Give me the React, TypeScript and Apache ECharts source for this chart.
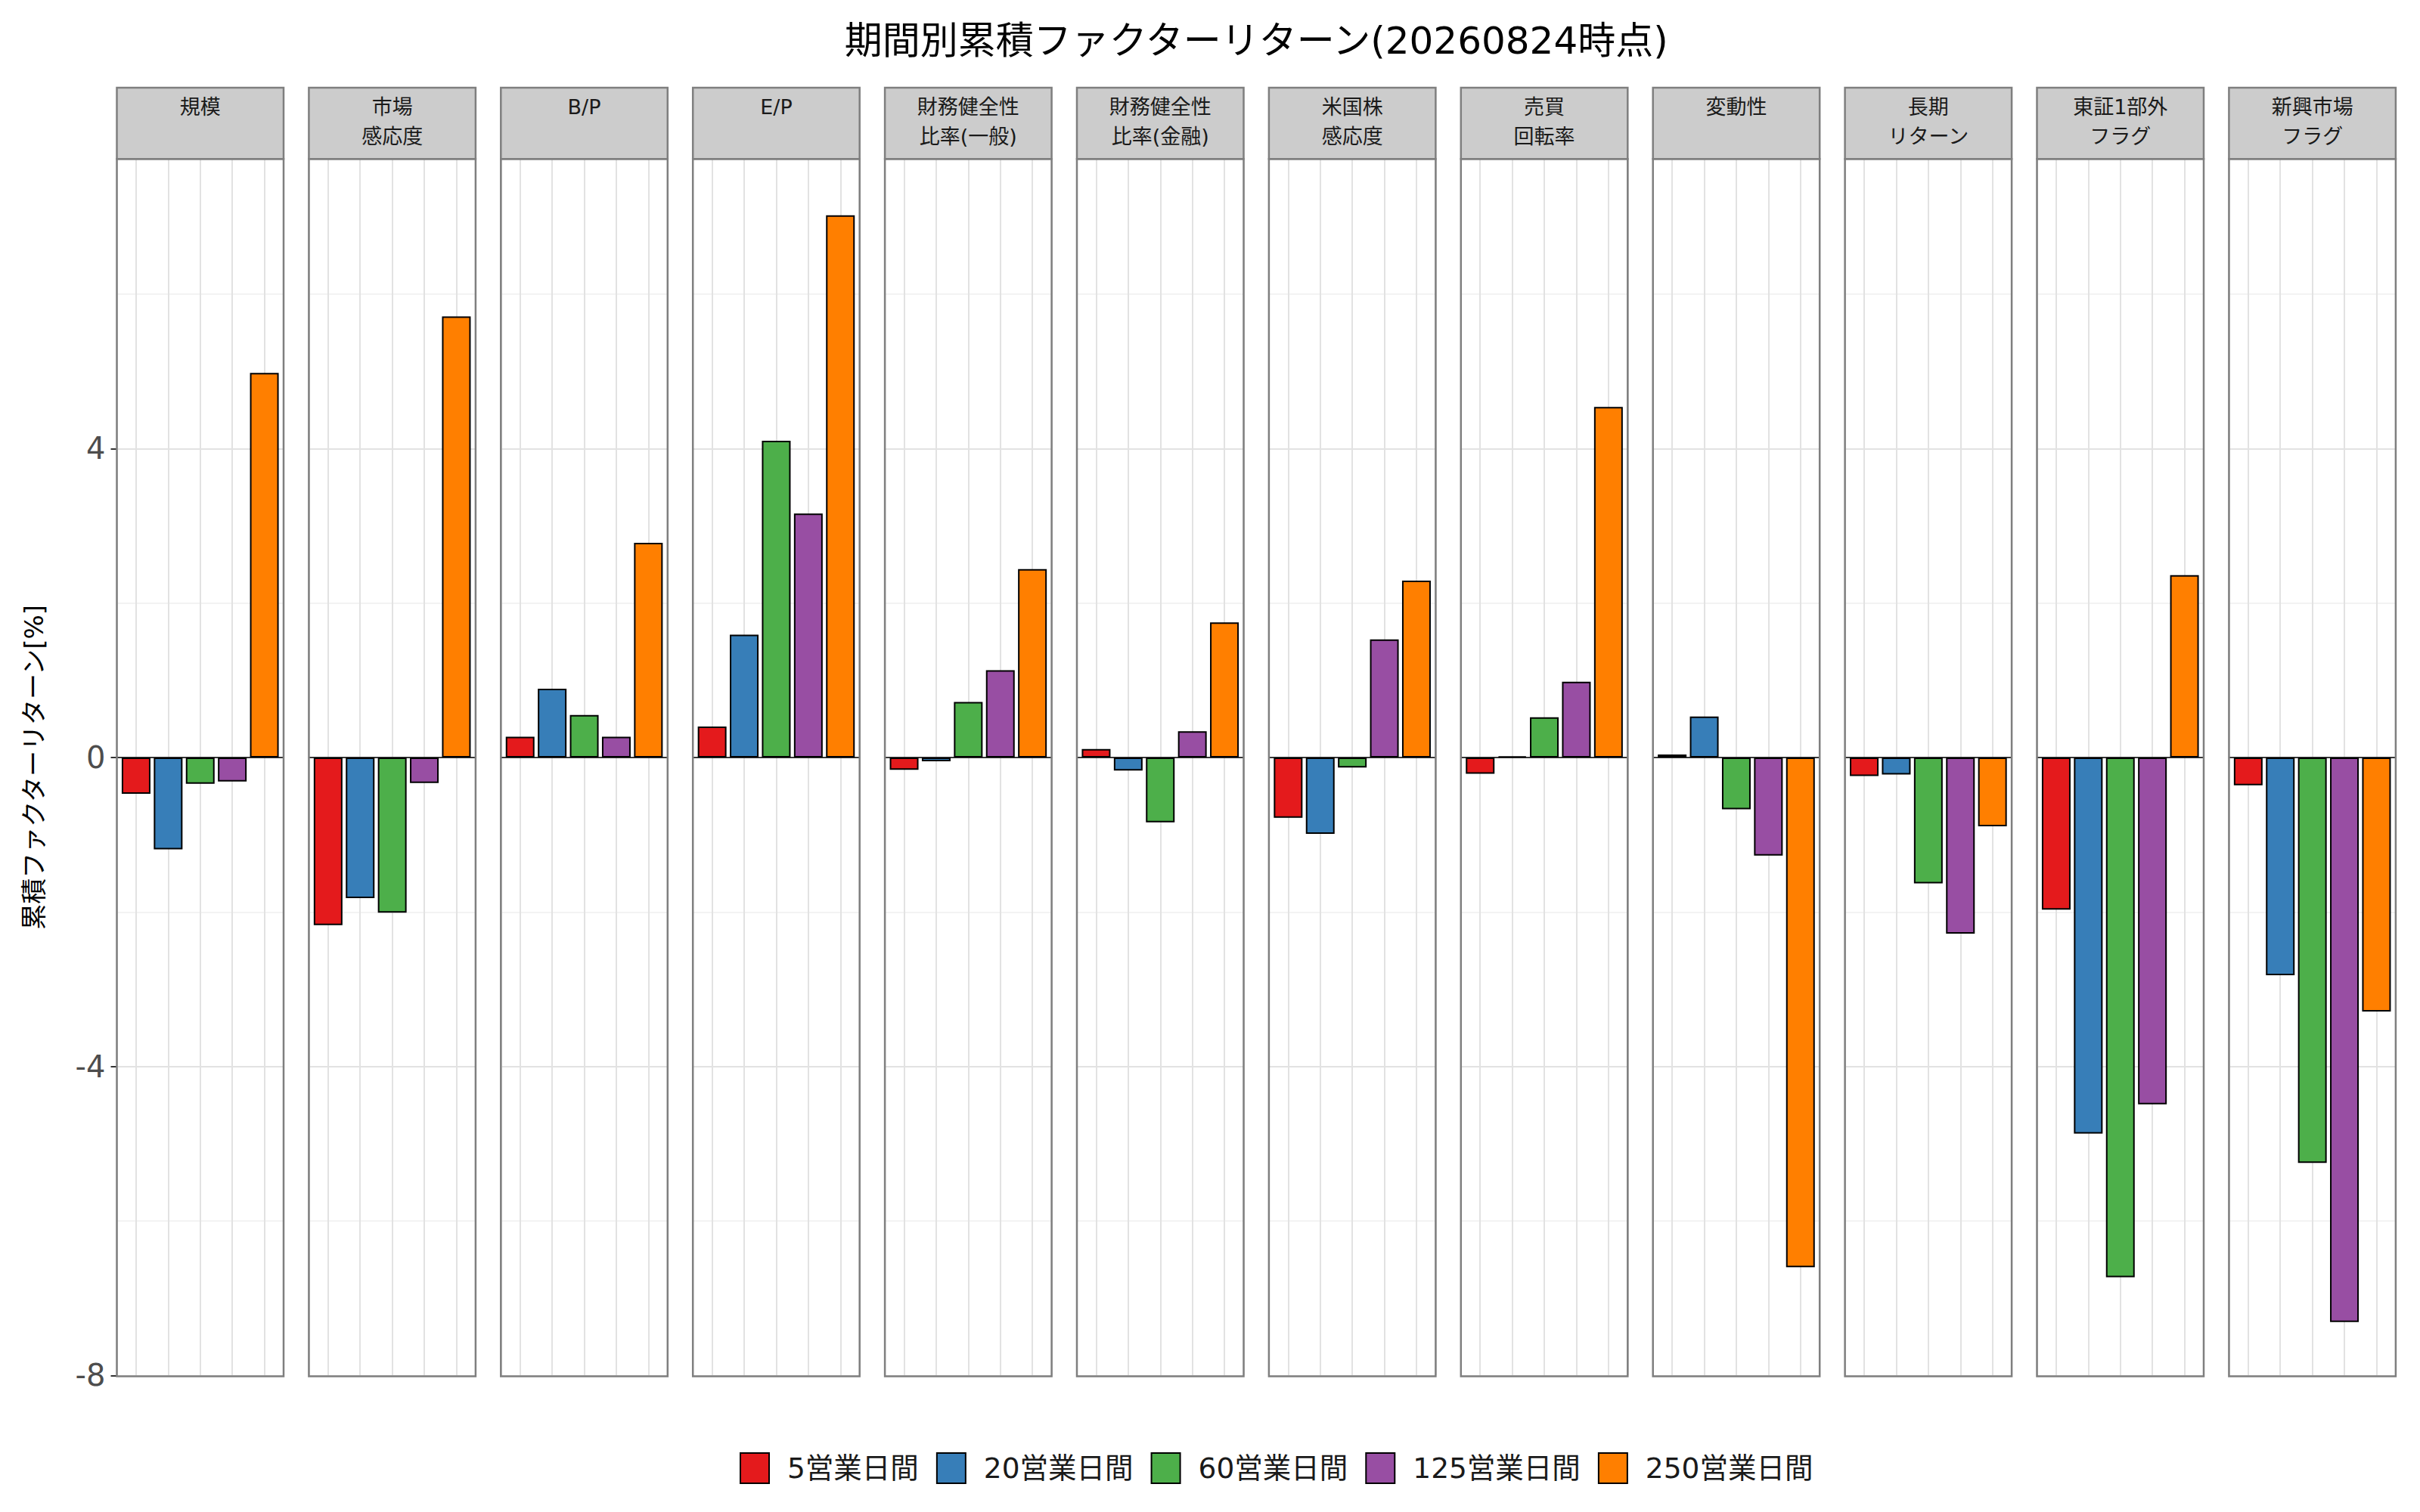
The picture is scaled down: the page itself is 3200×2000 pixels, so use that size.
import React, { useEffect, useRef } from 'react';
import * as echarts from 'echarts';

// ---- data ----
const factors = [
  '規模',
  '市場\n感応度',
  'B/P',
  'E/P',
  '財務健全性\n比率(一般)',
  '財務健全性\n比率(金融)',
  '米国株\n感応度',
  '売買\n回転率',
  '変動性',
  '長期\nリターン',
  '東証1部外\nフラグ',
  '新興市場\nフラグ',
];
const periods = ['5営業日間', '20営業日間', '60営業日間', '125営業日間', '250営業日間'];
const periodColors = ['#E41A1C', '#377EB8', '#4DAF4A', '#984EA3', '#FF7F00'];

const ret5 = [-0.47, -2.17, 0.27, 0.4, -0.16, 0.11, -0.78, -0.21, 0.04, -0.24, -1.97, -0.36];
const ret20 = [-1.19, -1.82, 0.89, 1.59, -0.05, -0.17, -0.99, 0.015, 0.53, -0.22, -4.87, -2.82];
const ret60 = [-0.34, -2.01, 0.55, 4.1, 0.72, -0.84, -0.13, 0.52, -0.67, -1.63, -6.73, -5.25];
const ret125 = [-0.31, -0.33, 0.27, 3.16, 1.13, 0.34, 1.53, 0.98, -1.27, -2.28, -4.49, -7.31];
const ret250 = [4.98, 5.71, 2.78, 7.02, 2.44, 1.75, 2.29, 4.54, -6.6, -0.89, 2.36, -3.29];
const seriesValues = [ret5, ret20, ret60, ret125, ret250];

const yTickLabels = [-8, -4, 0, 4];
const titleText = '期間別累積ファクターリターン(20260824時点)';
const yAxisTitle = '累積ファクターリターン[%]';

// ---- layout ----
const W = 3200;
const H = 2000;
const PANEL_LEFT = 154.5;
const PANEL_STEP = 253.9;
const PANEL_W = 220.5;
const PANEL_TOP = 210.2;
const PANEL_H = 1609.1;
const STRIP_TOP = 116;
const Y_MIN = -8;
const Y_MAX = 7.75;
const X_MIN = 0.4;
const X_MAX = 5.6;
const FONT = "'DejaVu Sans', 'Noto Sans CJK JP', sans-serif";
const BORDER = '#7f7f7f';

function buildOption() {
  const n = factors.length;
  const grids = factors.map((_, i) => ({
    left: PANEL_LEFT + i * PANEL_STEP,
    top: PANEL_TOP,
    width: PANEL_W,
    height: PANEL_H,
    show: true,
    backgroundColor: '#ffffff',
    borderWidth: 0,
    containLabel: false,
    outerBoundsMode: 'none',
  }));

  const xAxes = factors.map((_, i) => ({
    type: 'value',
    gridIndex: i,
    min: X_MIN,
    max: X_MAX,
    axisLabel: { show: false },
    axisTick: { show: false },
    axisLine: { show: true, onZero: true, lineStyle: { color: '#000', width: 1.5 } },
    splitLine: { show: true, lineStyle: { color: '#e2e2e2', width: 2 } },
  }));

  const yAxes: any[] = factors.map((_, i) => ({
    type: 'value',
    gridIndex: i,
    min: Y_MIN,
    max: Y_MAX,
    interval: 2,
    axisLabel: { show: false },
    axisTick: { show: false },
    axisLine: { show: false },
    splitLine: { show: true, lineStyle: { color: ['#e2e2e2', '#f3f3f3'], width: 2 } },
  }));
  // label/tick axis for first panel
  yAxes.push({
    type: 'value',
    gridIndex: 0,
    position: 'left',
    min: Y_MIN,
    max: Y_MAX,
    interval: 4,
    axisLine: { show: false },
    axisTick: { show: true, length: 8, lineStyle: { color: '#333333', width: 2 } },
    axisLabel: {
      show: true,
      margin: 15,
      fontSize: 40,
      color: '#4d4d4d',
      fontFamily: FONT,
      showMaxLabel: false,
      formatter: (v: number) => (yTickLabels.indexOf(v) >= 0 ? String(v) : ''),
    },
    splitLine: { show: false },
  });

  const series: any[] = [];
  periods.forEach((p, pi) => {
    factors.forEach((_, i) => {
      series.push({
        type: 'bar',
        name: p,
        xAxisIndex: i,
        yAxisIndex: i,
        data: [[pi + 1, seriesValues[pi][i]]],
        barWidth: 38,
        barGap: '-100%',
        itemStyle: { color: periodColors[pi], borderColor: '#000', borderWidth: 2 },
        z: 3,
      });
    });
  });

  const graphic: any[] = [];
  factors.forEach((f, i) => {
    const x = PANEL_LEFT + i * PANEL_STEP;
    graphic.push({
      type: 'rect',
      silent: true,
      z: 100,
      shape: { x, y: STRIP_TOP, width: PANEL_W, height: PANEL_TOP - STRIP_TOP },
      style: { fill: '#cccccc', stroke: BORDER, lineWidth: 2.5 },
    });
    graphic.push({
      type: 'text',
      silent: true,
      z: 101,
      x: x + PANEL_W / 2,
      y: STRIP_TOP + 6,
      style: {
        text: f,
        fill: '#1a1a1a',
        fontSize: 27,
        fontFamily: FONT,
        lineHeight: 39,
        align: 'center',
        verticalAlign: 'top',
        textAlign: 'center',
        textVerticalAlign: 'top',
      },
    });
    graphic.push({
      type: 'rect',
      silent: true,
      z: 100,
      shape: { x, y: PANEL_TOP, width: PANEL_W, height: PANEL_H + 1.2 },
      style: { fill: 'none', stroke: BORDER, lineWidth: 2.5 },
    });
  });
  graphic.push({
    type: 'text',
    silent: true,
    z: 101,
    x: 45,
    y: PANEL_TOP + PANEL_H / 2,
    rotation: Math.PI / 2,
    style: {
      text: yAxisTitle,
      fill: '#000',
      fontSize: 34,
      fontFamily: FONT,
      align: 'center',
      verticalAlign: 'middle',
      textAlign: 'center',
      textVerticalAlign: 'middle',
    },
  });

  return {
    animation: false,
    backgroundColor: '#ffffff',
    title: {
      text: titleText,
      left: PANEL_LEFT + ((n - 1) * PANEL_STEP + PANEL_W) / 2,
      top: 29,
      textAlign: 'center',
      padding: 0,
      textStyle: { fontSize: 50, fontWeight: 'normal', color: '#000', fontFamily: FONT },
    },
    legend: {
      data: periods,
      left: 973,
      top: 1916,
      itemWidth: 38,
      itemHeight: 40,
      itemGap: 23,
      icon: 'rect',
      itemStyle: { borderColor: '#000', borderWidth: 2 },
      textStyle: { fontSize: 37.5, color: '#1a1a1a', fontFamily: FONT, padding: [0, 0, 0, 19] },
    },
    grid: grids,
    xAxis: xAxes,
    yAxis: yAxes,
    series,
    graphic,
  };
}

export default function App() {
  const ref = useRef<HTMLDivElement>(null);
  useEffect(() => {
    if (!ref.current) return;
    const chart = echarts.init(ref.current, null, { renderer: 'svg', width: W, height: H });
    chart.setOption(buildOption() as any);
    return () => chart.dispose();
  }, []);
  return (
    <div
      ref={ref}
      style={{ position: 'absolute', left: 0, top: 0, width: W, height: H, background: '#fff' }}
    />
  );
}
